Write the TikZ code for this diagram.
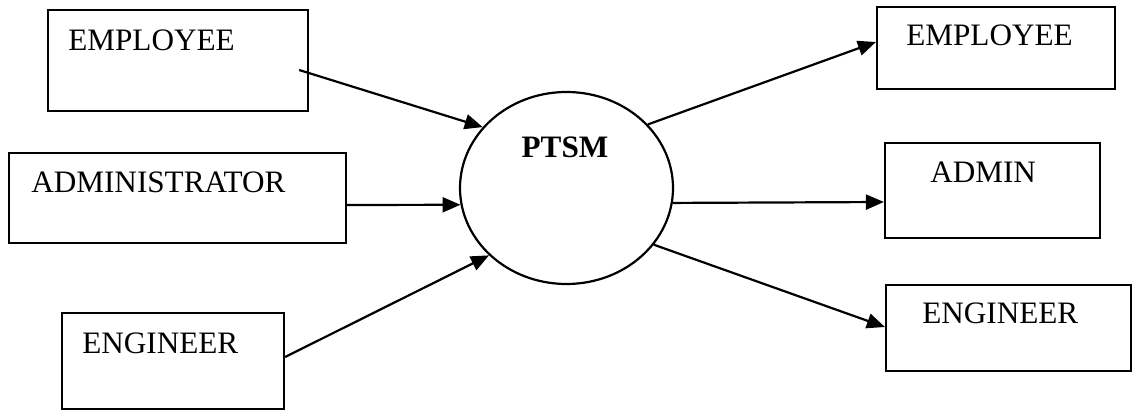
\documentclass[tikz,border=0pt]{standalone}
\usepackage{fontspec}
\setmainfont{Liberation Serif}
\usetikzlibrary{positioning, arrows.meta, shapes.geometric, calc}
\tikzset{
        actor-box/.style={
            draw, rectangle, line width=1.1pt, inner sep=0pt
        },
        process-bubble/.style={
            draw, ellipse, line width=1.1pt, inner sep=0pt, minimum width=106.5, minimum height=96
        },
        box-text/.style={
            anchor=base west, inner sep=0pt, font=\fontsize{15.6}{18}\selectfont
        },
        flow/.style={
            line width=1.1pt, -{Triangle[length=9pt,width=7.5pt]}
        },
}

\begin{document}
\begin{tikzpicture}[x=0.5pt, y=-0.5pt]
        \useasboundingbox (0,0) rectangle (1134,411);

        %DRAW NODES (boxes at coordinates, texts relative to the boxes)
        \node [process-bubble]                            (PTSM)    at (566.5,188) {};
        \node [actor-box, minimum width=130, minimum height=50.5] (EMP-IN)  at (178,60.5)  {};
        \node [actor-box, minimum width=168.5, minimum height=45] (ADM-IN)  at (177.5,198) {};
        \node [actor-box, minimum width=111, minimum height=48]   (ENG-IN)  at (173,361)   {};
        \node [actor-box, minimum width=119, minimum height=41]   (EMP-OUT) at (996,48)    {};
        \node [actor-box, minimum width=107.5, minimum height=47.5] (ADM-OUT) at (992.5,190.5) {};
        \node [actor-box, minimum width=122.5, minimum height=43] (ENG-OUT) at (1008.5,328) {};

        \node [box-text, anchor=base, font=\fontsize{15.6}{18}\selectfont\bfseries] (PTSM-T) at ($(PTSM)+(-1.5,-30)$) {PTSM};
        \node [box-text] (EMP-IN-T)  at ($(EMP-IN.north west)+(21,42)$)  {EMPLOYEE};
        \node [box-text] (ADM-IN-T)  at ($(ADM-IN.north west)+(23,41)$)  {ADMINISTRATOR};
        \node [box-text] (ENG-IN-T)  at ($(ENG-IN.north west)+(21,42)$)  {ENGINEER};
        \node [box-text] (EMP-OUT-T) at ($(EMP-OUT.north west)+(30,40)$) {EMPLOYEE};
        \node [box-text] (ADM-OUT-T) at ($(ADM-OUT.north west)+(46,41)$) {ADMIN};
        \node [box-text] (ENG-OUT-T) at ($(ENG-OUT.north west)+(37,40)$) {ENGINEER};

        % CONNECT INPUTS
        \draw [flow] ($(EMP-IN.east)+(-10,9.5)$) -- (PTSM.144);
        \draw [flow] ($(ADM-IN.east)+(0,7)$)     -- (PTSM.189.3);
        \draw [flow] ($(ENG-IN.east)+(0,-4)$)    -- (PTSM.221);

        % CONNECT OUTPUTS
        \draw [flow] (PTSM.38.9) -- ($(EMP-OUT.west)+(0,-6)$);
        \draw [flow] (PTSM.352)  -- ($(ADM-OUT.west)+(0,11.5)$);
        \draw [flow] (PTSM.327)  -- ($(ENG-OUT.west)+(0,-1)$);

\end{tikzpicture}
\end{document}
